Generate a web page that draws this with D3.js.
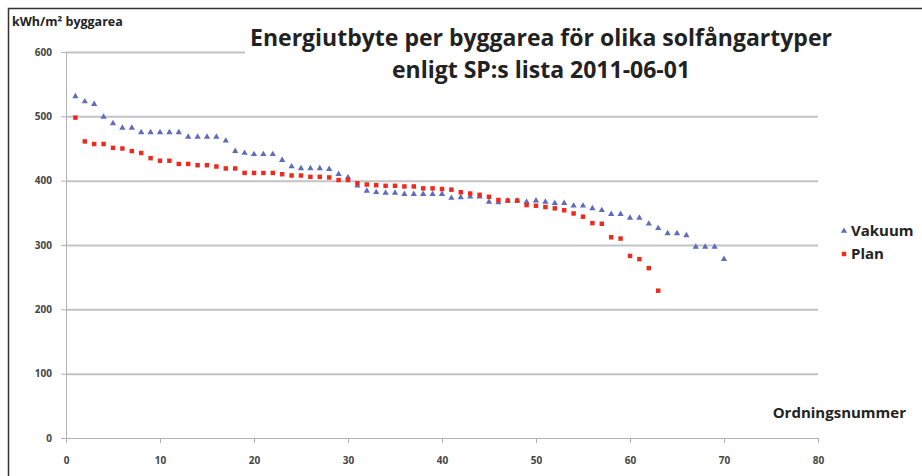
<!DOCTYPE html>
<html lang="sv">
<head>
<meta charset="utf-8">
<title>Energiutbyte per byggarea</title>
<script src="https://cdn.jsdelivr.net/npm/d3@7"></script>
<style>
  body { margin: 0; background: #fff; }
  .axis path, .axis line { stroke: #b4b0b8; }
  .axis text { font-family: "Open Sans", sans-serif; font-size: 10px; font-weight: bold; fill: #444; }
  .grid line { stroke: #c4c2c6; stroke-width: 2px; }
  .grid path { stroke-width: 0; }
  .lbl { font-family: "Open Sans", sans-serif; font-weight: bold; fill: #222; }
</style>
</head>
<body>
<script>
// Data (ordningsnummer 1..n)
var vakuum = [531, 523, 519, 499, 489, 482, 482, 475, 475, 475,
              475, 475, 468, 468, 468, 468, 462, 446, 443, 441,
              441, 441, 432, 422, 419, 419, 419, 418, 410, 405,
              392, 384, 382, 381, 381, 379, 379, 379, 379, 379,
              373, 374, 375, 375, 367, 366, 369, 369, 367, 369,
              367, 365, 365, 361, 361, 357, 354, 348, 348, 342,
              342, 333, 326, 318, 318, 315, 297, 297, 297, 278];
var plan = [498, 461, 457, 457, 451, 450, 446, 443, 435, 431,
            431, 426, 426, 424, 424, 422, 419, 419, 412, 412,
            412, 412, 410, 408, 408, 406, 406, 405, 401, 401,
            396, 394, 393, 392, 392, 391, 391, 388, 388, 387,
            386, 382, 380, 378, 375, 370, 369, 369, 362, 361,
            359, 357, 354, 349, 344, 334, 333, 312, 310, 283,
            278, 264, 229];
var xTicks = [0, 10, 20, 30, 40, 50, 60, 70, 80];
var yTicks = [0, 100, 200, 300, 400, 500, 600];
var seriesNames = ["Vakuum", "Plan"];
var seriesColors = ["#5f6cbc", "#ee2a1e"];

var w = 922, h = 476;
var svg = d3.select("body").append("svg").attr("width", w).attr("height", h);

var x = d3.scaleLinear().domain([0, 80]).range([66, 818]);
var y = d3.scaleLinear().domain([0, 600]).range([438, 52]);

// outer frame
svg.append("rect").attr("x", 8.5).attr("y", 8.5).attr("width", 930).attr("height", 500)
  .attr("fill", "none").attr("stroke", "#333").attr("stroke-width", 1.5);

// gridlines
svg.append("g").attr("class", "grid")
  .attr("transform", "translate(66,0)")
  .call(d3.axisLeft(y).tickValues(yTicks.slice(1)).tickSize(66 - 818).tickFormat(""));

// axes
svg.append("g").attr("class", "axis")
  .attr("transform", "translate(0,438)")
  .call(d3.axisBottom(x).tickValues(xTicks).tickSize(5).tickPadding(14).tickSizeOuter(0));
svg.append("g").attr("class", "axis")
  .attr("transform", "translate(66,0)")
  .call(d3.axisLeft(y).tickValues(yTicks).tickSize(5).tickPadding(9).tickSizeOuter(0));

// title box
svg.append("rect").attr("x", 245).attr("y", 14).attr("width", 600).attr("height", 90).attr("fill", "#fff");
svg.append("text").attr("class", "lbl").attr("x", 541).attr("y", 46)
  .attr("text-anchor", "middle").style("font-size", "23px")
  .text("Energiutbyte per byggarea för olika solfångartyper");
svg.append("text").attr("class", "lbl").attr("x", 541).attr("y", 78)
  .attr("text-anchor", "middle").style("font-size", "23px")
  .text("enligt SP:s lista 2011-06-01");

// axis titles
svg.append("text").attr("class", "lbl").attr("x", 12).attr("y", 26)
  .style("font-size", "12.5px").text("kWh/m² byggarea");
svg.append("text").attr("class", "lbl").attr("x", 906).attr("y", 418)
  .attr("text-anchor", "end").style("font-size", "15px").text("Ordningsnummer");

// points
var tri = d3.symbol().type(d3.symbolTriangle).size(17);
var sq = d3.symbol().type(d3.symbolSquare).size(20);

svg.append("g").selectAll("path")
  .data(vakuum).enter().append("path")
  .attr("transform", function(d, i) { return "translate(" + x(i + 1) + "," + y(d) + ")"; })
  .attr("d", tri).attr("fill", seriesColors[0]);

svg.append("g").selectAll("path")
  .data(plan).enter().append("path")
  .attr("transform", function(d, i) { return "translate(" + x(i + 1) + "," + y(d) + ")"; })
  .attr("d", sq).attr("fill", seriesColors[1]);

// legend
var leg = svg.append("g").attr("transform", "translate(844,231)");
var items = leg.selectAll("g").data(seriesNames).enter().append("g")
  .attr("transform", function(d, i) { return "translate(0," + (i * 23) + ")"; });
items.append("path")
  .attr("d", function(d, i) { return i === 0 ? tri() : sq(); })
  .attr("fill", function(d, i) { return seriesColors[i]; });
items.append("text").attr("class", "lbl").attr("x", 7).attr("y", 5)
  .style("font-size", "15px").text(function(d) { return d; });
</script>
</body>
</html>
